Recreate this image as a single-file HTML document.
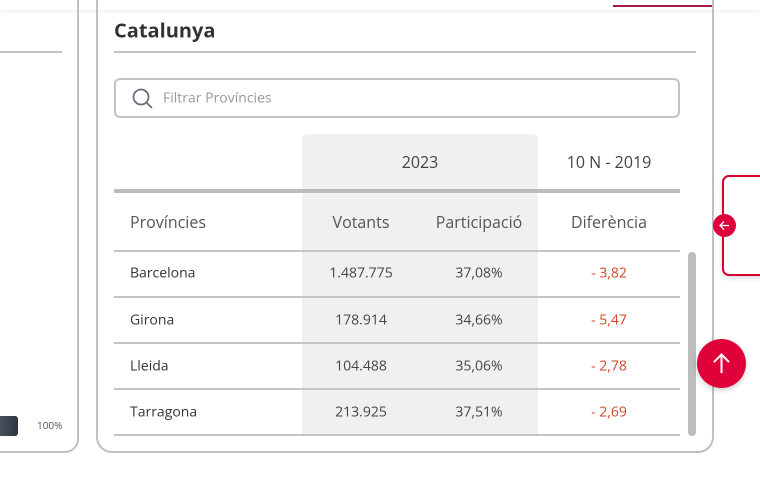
<!DOCTYPE html>
<html><head><meta charset="utf-8"><style>
*{margin:0;padding:0;box-sizing:border-box}
body{width:760px;height:485px;background:#fff;position:relative;overflow:hidden;font-family:"Open Sans","Liberation Sans",sans-serif;color:#444}
.a{position:absolute}
.t{position:absolute;white-space:nowrap;font-size:14px;color:#444;transform:translate(-50%,-50%)}
.l{position:absolute;white-space:nowrap;font-size:14px;color:#333;transform:translateY(-50%)}
.hl{position:absolute;left:114px;width:566px;height:2px;background:#c4c4c4}
</style></head><body>
<div class="a" style="left:0;top:0;width:760px;height:10px;background:#fff;box-shadow:0 2px 4px rgba(0,0,0,0.06)"></div>
<div class="a" style="left:613px;top:5px;width:101px;height:2px;background:#a51f45"></div>
<div class="a" style="left:-20px;top:-20px;width:99px;height:473px;border:2px solid #c0c0c0;border-radius:14px"></div>
<div class="a" style="left:0;top:51px;width:62px;height:2px;background:#c4c4c4"></div>
<div class="a" style="left:0;top:416px;width:18px;height:20px;background:linear-gradient(90deg,#4a5260,#2c3340);border-radius:0 3px 3px 0"></div>
<div class="l" style="left:37px;top:425px;font-size:10px;color:#555">100%</div>
<div class="a" style="left:96px;top:-20px;width:618px;height:473px;border:2px solid #c0c0c0;border-radius:16px"></div>
<div class="l" style="left:114px;top:30px;font-size:20px;font-weight:bold;color:#333">Catalunya</div>
<div class="a" style="left:114px;top:51px;width:582px;height:2px;background:#c4c4c4"></div>
<div class="a" style="left:114px;top:78px;width:566px;height:40px;border:2px solid #c4c4c4;border-radius:6px"></div>
<svg class="a" style="left:131px;top:87px" width="24" height="24" viewBox="0 0 24 24"><circle cx="10" cy="10" r="7.5" fill="none" stroke="#667080" stroke-width="1.8"/><line x1="15.5" y1="15.5" x2="21" y2="21" stroke="#667080" stroke-width="1.8"/></svg>
<div class="l" style="left:163px;top:98px;font-size:14px;color:#999">Filtrar Províncies</div>
<div class="a" style="left:302px;top:134px;width:236px;height:301px;background:#f0f0f2;border-radius:6px 6px 0 0"></div>
<div class="t" style="left:420px;top:162px;font-size:16px">2023</div>
<div class="t" style="left:609px;top:162px;font-size:16px">10 N - 2019</div>
<div class="a" style="left:114px;top:189px;width:566px;height:4px;background:#bcbcbc"></div>
<div class="l" style="left:130px;top:222px;font-size:16px;color:#555">Províncies</div>
<div class="t" style="left:361px;top:222px;font-size:16px;color:#555">Votants</div>
<div class="t" style="left:479px;top:222px;font-size:16px;color:#555">Participació</div>
<div class="t" style="left:609px;top:222px;font-size:16px;color:#555">Diferència</div>
<div class="hl" style="top:250px"></div>
<div class="hl" style="top:296px"></div>
<div class="hl" style="top:342px"></div>
<div class="hl" style="top:388px"></div>
<div class="hl" style="top:434px"></div>
<div class="l" style="left:130px;top:273px">Barcelona</div><div class="t" style="left:361px;top:273px">1.487.775</div><div class="t" style="left:479px;top:273px">37,08%</div><div class="t" style="left:609px;top:273px;color:#d0462a">- 3,82</div>
<div class="l" style="left:130px;top:320px">Girona</div><div class="t" style="left:361px;top:320px">178.914</div><div class="t" style="left:479px;top:320px">34,66%</div><div class="t" style="left:609px;top:320px;color:#d0462a">- 5,47</div>
<div class="l" style="left:130px;top:366px">Lleida</div><div class="t" style="left:361px;top:366px">104.488</div><div class="t" style="left:479px;top:366px">35,06%</div><div class="t" style="left:609px;top:366px;color:#d0462a">- 2,78</div>
<div class="l" style="left:130px;top:412px">Tarragona</div><div class="t" style="left:361px;top:412px">213.925</div><div class="t" style="left:479px;top:412px">37,51%</div><div class="t" style="left:609px;top:412px;color:#d0462a">- 2,69</div>
<div class="a" style="left:688px;top:252px;width:8px;height:184px;background:#bdbdbd;border-radius:4px"></div>
<div class="a" style="left:722px;top:175px;width:60px;height:101px;border:2px solid #d8002f;border-radius:7px;background:#fff;box-shadow:0 2px 6px rgba(0,0,0,0.15)"></div>
<div class="a" style="left:713px;top:214px;width:23px;height:23px;border-radius:50%;background:#e0003a"></div>
<svg class="a" style="left:718px;top:219px" width="13" height="13" viewBox="0 0 13 13"><line x1="2" y1="6.5" x2="11" y2="6.5" stroke="#fff" stroke-width="1.3"/><polyline points="6,2.5 2,6.5 6,10.5" fill="none" stroke="#fff" stroke-width="1.3"/></svg>
<div class="a" style="left:697px;top:339px;width:49px;height:49px;border-radius:50%;background:#e0003a;box-shadow:0 2px 6px rgba(0,0,0,0.2)"></div>
<svg class="a" style="left:709px;top:351px" width="25" height="25" viewBox="0 0 25 25"><line x1="12.5" y1="4" x2="12.5" y2="22" stroke="#fff" stroke-width="2"/><polyline points="5,11 12.5,3.5 20,11" fill="none" stroke="#fff" stroke-width="2"/></svg>
</body></html>
